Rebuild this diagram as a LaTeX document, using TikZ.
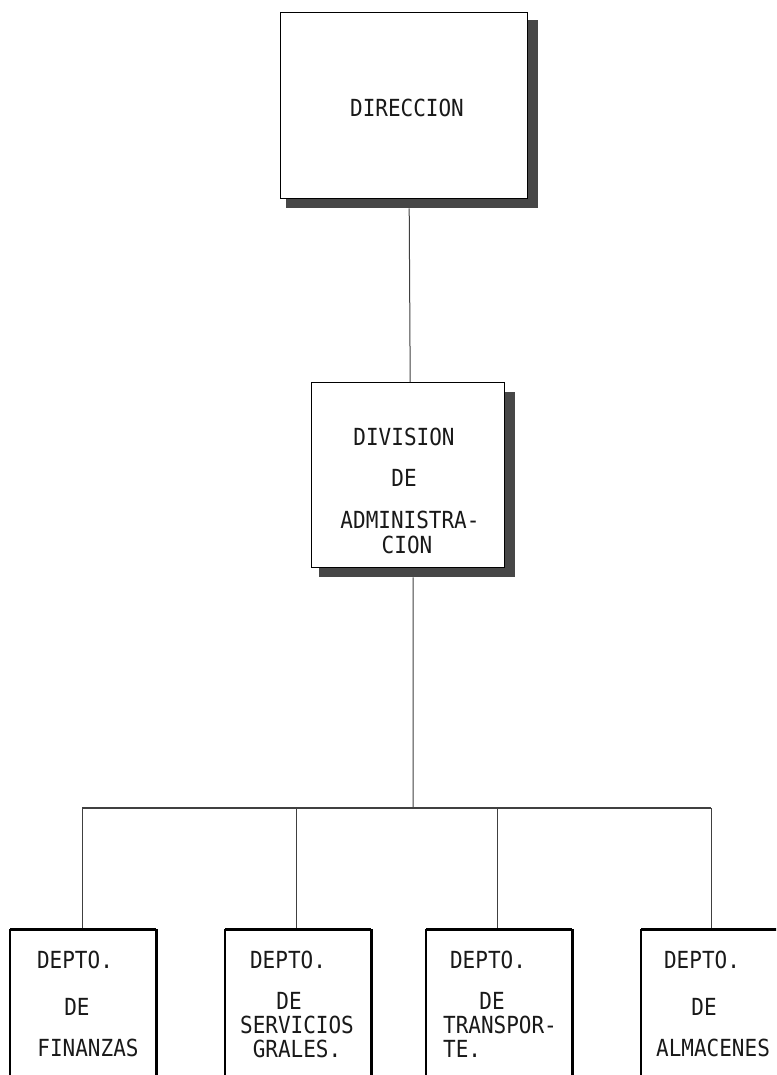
\documentclass[tikz,border=0pt]{standalone}
\usepackage{fontspec}
\newfontfamily\dotfont{DejaVu Sans Mono}
\usetikzlibrary{calc}
\newcommand{\tall}[1]{\scalebox{1}[1.12]{#1}}
\tikzset{
  bigbox/.style={draw=black, line width=1.4pt, fill=white, inner sep=0pt},
  deptbox/.style={draw=none, fill=white, inner sep=0pt, minimum width=146pt, minimum height=170pt, anchor=north west},
  shadowfill/.style={fill=black!72},
  conn/.style={draw=black!75, line width=1pt},
  lbl/.style={font=\dotfont\fontsize{21}{21}\selectfont, inner sep=0pt, text=black!90},
}
\begin{document}
\begin{tikzpicture}[x=1pt,y=-1pt]
\useasboundingbox (0,0) rectangle (776,1075);
\clip (0,0) rectangle (776,1075);
% top box
\node[bigbox, minimum width=247pt, minimum height=186pt, anchor=north west] (dir) at (280,12) {};
\fill[shadowfill] ($(dir.north east)+(0,8)$) rectangle ($(dir.south east)+(10,9)$);
\fill[shadowfill] ($(dir.south west)+(6,0)$) rectangle ($(dir.south east)+(10,9)$);
\node[lbl] (tdir) at (407,108) {\tall{DIRECCION}};
% division box
\node[bigbox, minimum width=193pt, minimum height=185pt, anchor=north west] (div) at (311,382) {};
\fill[shadowfill] ($(div.north east)+(0,10)$) rectangle ($(div.south east)+(10,9)$);
\fill[shadowfill] ($(div.south west)+(8,0)$) rectangle ($(div.south east)+(10,9)$);
\node[lbl] (tdiv1) at (404,437) {\tall{DIVISION}};
\node[lbl] (tdiv2) at (404,478) {\tall{DE}};
\node[lbl] (tdiv3) at (410,520) {\tall{ADMINISTRA-}};
\node[lbl] (tdiv4) at (407,545) {\tall{CION}};
% connectors
\coordinate (bus) at (413,808);
\coordinate (busL) at (82,808);
\coordinate (busR) at (711,808);
\draw[conn] ($(dir.south)+(5,9)$) -- ($(div.north)+(2,0)$);
\draw[conn] ($(div.south)+(5,9)$) -- (bus);
\draw[conn, line width=1.3pt] (busL) -- (busR);
% department boxes
\node[deptbox] (d1) at (10,929) {};
\node[deptbox] (d2) at (225,929) {};
\node[deptbox] (d3) at (426,929) {};
\node[deptbox] (d4) at (641,929) {};
\foreach \b/\x in {d1/82,d2/296,d3/497,d4/711}{
  \draw[conn] (\x,808) -- (\b.north -| \x,0);
  \draw[line width=3pt] (\b.north west) -- (\b.north east);
  \draw[line width=2.5pt] (\b.north west) -- (\b.south west);
  \draw[line width=2.5pt] (\b.north east) -- (\b.south east);
}
% texts
\node[lbl] (t11) at (75,960) {\tall{DEPTO.}};
\node[lbl] (t12) at (77,1007) {\tall{DE}};
\node[lbl] (t13) at (88,1048) {\tall{FINANZAS}};
\node[lbl] (t21) at (288,960) {\tall{DEPTO.}};
\node[lbl] (t22) at (289,1001) {\tall{DE}};
\node[lbl] (t23) at (297,1025) {\tall{SERVICIOS}};
\node[lbl] (t24) at (297,1049) {\tall{GRALES.}};
\node[lbl] (t31) at (488,960) {\tall{DEPTO.}};
\node[lbl] (t32) at (492,1001) {\tall{DE}};
\node[lbl] (t33) at (500,1025) {\tall{TRANSPOR-}};
\node[lbl, anchor=west] (t34) at (443,1049) {\tall{TE.}};
\node[lbl] (t41) at (702,960) {\tall{DEPTO.}};
\node[lbl] (t42) at (704,1007) {\tall{DE}};
\node[lbl] (t43) at (713,1048) {\tall{ALMACENES}};
\end{tikzpicture}
\end{document}
